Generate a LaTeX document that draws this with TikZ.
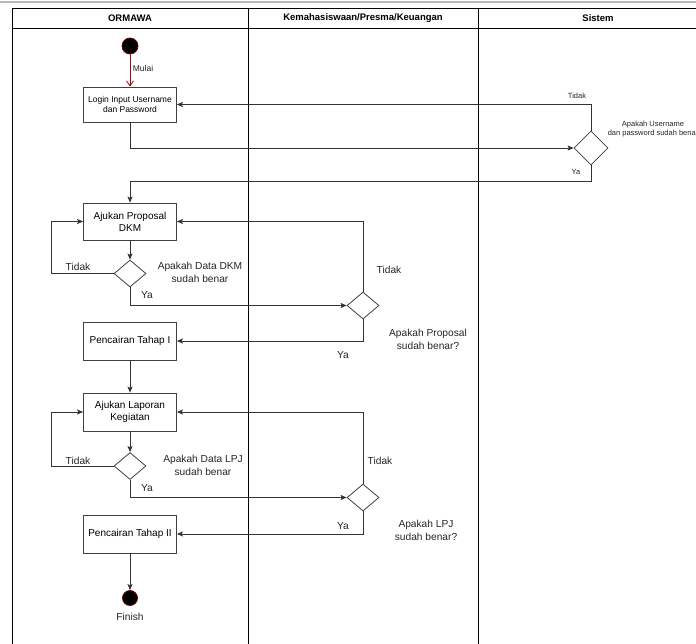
\documentclass[tikz,border=0pt]{standalone}
\usepackage{fontspec}
\setmainfont{Liberation Sans}
\usetikzlibrary{arrows.meta,shapes.geometric}
\begin{document}
\begin{tikzpicture}[x=1pt,y=-1pt,
  lane/.style={draw=black,line width=0.8pt},
  hdr/.style={font=\fontsize{9.5}{11}\selectfont\bfseries},
  act/.style={draw=black!75,line width=0.8pt,fill=white,minimum width=93pt,
    minimum height=37pt,inner sep=1pt,align=center,
    font=\fontsize{10}{11.8}\selectfont},
  dec/.style={draw=black!75,line width=0.8pt,diamond,fill=white,
    minimum width=32pt,minimum height=27pt,inner sep=0pt},
  dot/.style={circle,fill=black,draw=red!45!black,line width=0.8pt,
    minimum size=16pt,inner sep=0pt},
  flow/.style={draw=black!80,line width=0.8pt,
    -{Stealth[length=6pt,width=5pt,inset=1.2pt]}},
  redflow/.style={draw=red!70!black,line width=0.8pt,
    -{Straight Barb[length=5pt,width=7pt]}},
  lbl/.style={font=\fontsize{10.2}{12.5}\selectfont,text=black!85,align=center,inner sep=0pt},
  small/.style={font=\fontsize{7.5}{9}\selectfont,text=black!85,align=center,inner sep=0pt}]

\clip (0,0) rectangle (696,643);
\fill[white] (0,0) rectangle (696,643);
\draw[gray!55,line width=2pt] (0,1.5) -- (696,1.5);

% swimlanes
\draw[lane] (12,650) -- (12,8) -- (710,8);
\draw[lane] (12,28) -- (710,28);
\draw[lane] (248,8) -- (248,650);
\draw[lane] (478,8) -- (478,650);
\node[hdr] (h1) at (130,18) {ORMAWA};
\node[hdr] (h2) at (363,18) {Kemahasiswaan/Presma/Keuangan};
\node[hdr] (h3) at (598,18) {Sistem};

% login
\node[dot] (start) at (130,46) {};
\node[act,minimum height=35pt,font=\fontsize{8.5}{10}\selectfont] (login) at (130,104.5)
  {Login Input Username\\dan Password};
\draw[redflow] (start) -- (login);
\node[font=\fontsize{8.5}{10}\selectfont,text=black!85,inner sep=0pt] (mulai) at (143,68) {Mulai};

\node[dec,minimum width=34pt,minimum height=34pt] (d0) at (591,148) {};
\draw[flow] (login.south) |- (d0.west);
\draw[flow] (d0.north) |- (login.east);
\node[small] (t0) at (577,96) {Tidak};
\node[small] (q0) at (653,129.5) {Apakah Username\\dan password sudah benar};

% proposal
\node[act] (prop) at (130,221.5) {Ajukan Proposal\\DKM};
\draw[flow] (d0.south) -- ++(0,16) -| (prop.north);
\node[small] (y0) at (576,172) {Ya};

\node[dec] (d1) at (130,273.5) {};
\draw[flow] (prop) -- (d1);
\draw[flow] (d1.west) -- ++(-62,0) |- (prop.west);
\node[lbl] (t1) at (78,267) {Tidak};
\node[lbl] (q1) at (200,272.5) {Apakah Data DKM\\sudah benar};
\node[lbl] (y1) at (147,295) {Ya};

\node[dec] (d2) at (363,305.5) {};
\draw[flow] (d1.south) |- (d2.west);
\draw[flow] (d2.north) |- (prop.east);
\node[lbl] (t2) at (389,270) {Tidak};

\node[act,minimum height=38pt] (cair1) at (130,341) {Pencairan Tahap I};
\draw[flow] (d2.south) |- (cair1.east);
\node[lbl] (y2) at (343,355) {Ya};
\node[lbl] (q2) at (428,339.5) {Apakah Proposal\\sudah benar?};

% laporan
\node[act,minimum height=38pt] (lap) at (130,412) {Ajukan Laporan\\Kegiatan};
\draw[flow] (cair1) -- (lap);

\node[dec] (d3) at (130,466) {};
\draw[flow] (lap) -- (d3);
\draw[flow] (d3.west) -- ++(-62,0) |- (lap.west);
\node[lbl] (t3) at (78,461) {Tidak};
\node[lbl] (q3) at (203,465.5) {Apakah Data LPJ\\sudah benar};
\node[lbl] (y3) at (147,488) {Ya};

\node[dec] (d4) at (363,497.5) {};
\draw[flow] (d3.south) |- (d4.west);
\draw[flow] (d4.north) |- (lap.east);
\node[lbl] (t4) at (380,461) {Tidak};

\node[act,minimum height=38pt] (cair2) at (130,534) {Pencairan Tahap II};
\draw[flow] (d4.south) |- (cair2.east);
\node[lbl] (y4) at (343,526) {Ya};
\node[lbl] (q4) at (426,530.5) {Apakah LPJ\\sudah benar?};

% end
\node[dot,minimum size=15pt] (stop) at (130,598) {};
\draw[flow] (cair2) -- (stop);
\node[lbl] (fin) at (130,617) {Finish};
\end{tikzpicture}
\end{document}
